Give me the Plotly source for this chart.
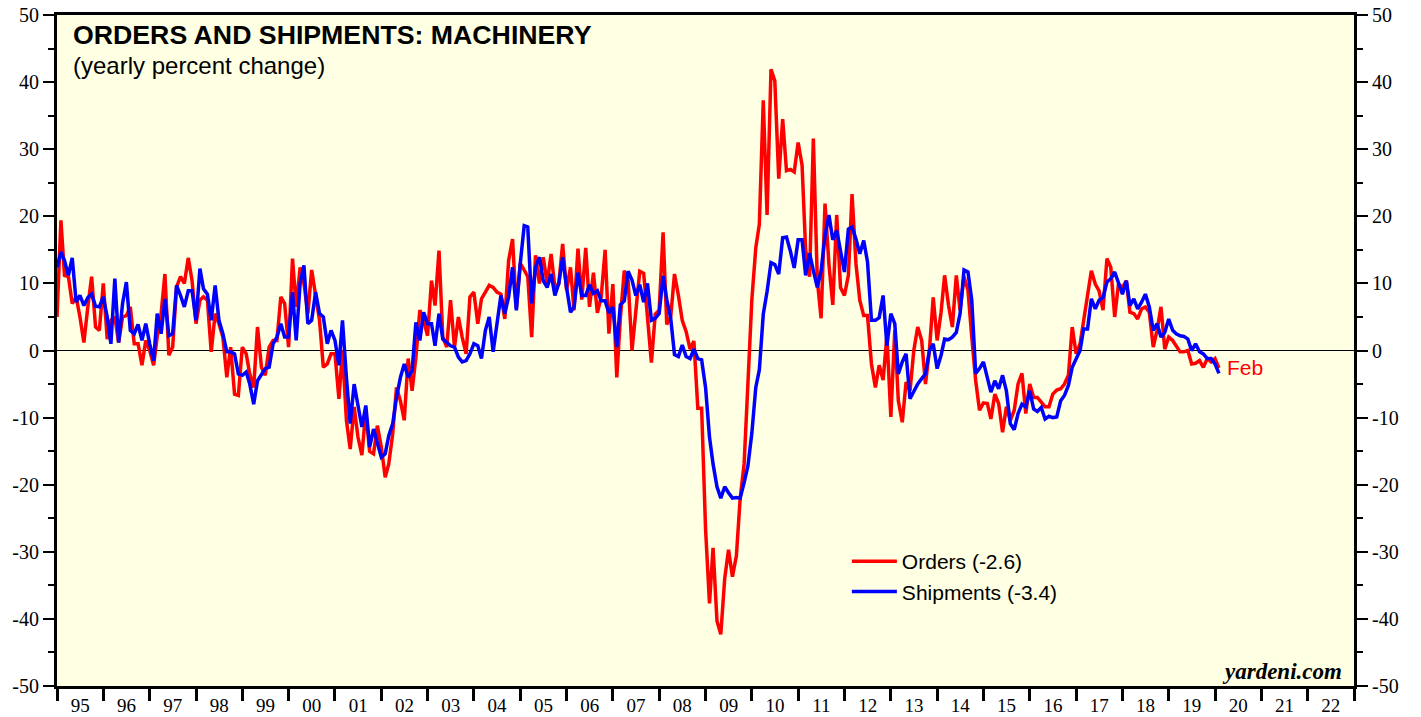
import pandas as pd
import plotly.graph_objects as go

# monthly yearly-percent-change values, Jan 1995 .. Feb 2020
orders = [
    5, 19.4, 11.2, 11, 7, 8, 5, 1.2, 6.5, 11, 3.5, 3,                 # 95
    10, 1.7, 4.5, 5, 1.2, 5, 5.2, 6.5, 1, 1, -2.2, 1.5,               # 96
    0, -2.2, 2, 5.5, 11.4, -0.7, 0.5, 9.5, 11, 10, 13.8, 10.4,        # 97
    4, 7.5, 8, 7.5, -0.2, 5.5, 4, 2, -4, 0.5, -6.5, -6.7,             # 98
    0.5, -0.5, -3.5, -5.5, 3.5, -2.5, -3.7, 0.5, 1.5, 1.5, 8, 7,      # 99
    0.5, 13.7, 6.5, 12.4, 10, 5.5, 12, 8.5, 4.5, -2.5, -2, -0.5,      # 00
    -0.5, -7.2, 0, -10.4, -14.7, -8.4, -12.9, -15.6, -9, -15, -15.4, -11.2,  # 01
    -14.4, -18.9, -16.9, -12.4, -5.5, -7.5, -10.4, -1.2, -6, -1, 6, 4.5,     # 02
    2.2, 10.4, 6.7, 14.9, 2, 0.5, 7.5, 0.5, 5, 2, -0.5, 8,            # 03
    8.7, 4, 7.7, 8.7, 9.7, 9.4, 8.7, 8.4, 4.7, 13.4, 16.6, 6.2,       # 04
    13, 12, 11, 2, 14.2, 10, 13.9, 10, 14.4, 9.4, 10, 15.9,           # 05
    9, 12.4, 6, 15.2, 7.6, 15.3, 6.5, 11.6, 5.6, 8, 15, 2.5,          # 06
    9.9, -4, 4.8, 11.9, 10.5, 0, 5.4, 11.8, 11.5, 4.8, -1.8, 5.4,     # 07
    6, 17.6, 3.9, 5, 11.4, 8.2, 4.5, 2.8, 0.2, 1.4, -8.6, -8.6,       # 08
    -26.6, -37.7, -29.4, -40.3, -42.3, -34, -29.7, -33.7, -30.6, -22, -16.9, -4.9,  # 09
    7.6, 15.3, 18.8, 37.3, 20.2, 41.9, 40.2, 25.6, 34.5, 26.8, 27, 26.6,     # 10
    31, 27.6, 15, 11, 31.6, 10.5, 4.8, 21.9, 12.8, 6.8, 20.2, 9.4,    # 11
    8.2, 11.2, 23.3, 12.9, 7.5, 5.2, 5.2, -2, -5.5, -2.2, -4.4, 2.2,  # 12
    -9.9, 3, -7.5, -10.7, -4.7, -6, 0, 3.5, 1.5, -5, 0, 7.9,          # 13
    1.5, 5.7, 11.2, 6.7, 3.5, 11.2, 6, 11, 9, 2, -4.5, -8.9,          # 14
    -7.8, -7.9, -10.2, -6.5, -7.9, -12.2, -8.4, -10.4, -8.9, -5, -3.4, -9.4,  # 15
    -5, -7, -7, -7.7, -8.4, -8.4, -6.5, -5.9, -5.7, -5, -3.7, 3.5,    # 16
    -0.5, 1, 4.5, 7.9, 11.9, 9.9, 8.9, 6, 13.7, 12.4, 5, 9.9,         # 17
    9.4, 10.4, 5.7, 5.5, 4.7, 6.2, 6.5, 5.7, 0.5, 3, 6.5, 0.2,        # 18
    2, 1.5, 0.7, -0.2, -0.2, 0, -2, -1.9, -1.5, -2.5, -1.2, -1.7,     # 19
    -1.2, -2.6,                                                       # 20
]

shipments = [
    12.4, 14.7, 13.4, 11.2, 13.8, 7.2, 8.2, 6.7, 7.9, 8.4, 6.6, 6.5,  # 95
    8, 5, 1, 10.7, 1.2, 7, 10.2, 3, 2.5, 3.9, 1.5, 4,                 # 96
    1, -1.5, 5.5, 2.5, 7.7, 2.2, 2.5, 9.7, 8.2, 6.5, 8.9, 8.9,        # 97
    4.5, 12.2, 9.2, 8.4, 4.5, 9.7, 4.5, 2.5, -0.2, -0.2, -0.5, -3.5,  # 98
    -3.7, -3.2, -5, -8, -4.5, -3.5, -2.7, -2.5, 1, 2, 4, 2,           # 99
    2, 8.7, 1.5, 10, 12.7, 4, 4.5, 8.7, 5.5, 5, 1, 3,                 # 00
    1.5, -2.2, 4.5, -4, -10.9, -5, -8.4, -11.4, -8.2, -14.4, -11.7, -13.9,   # 01
    -15.9, -15.4, -12.7, -10.9, -7, -4, -2, -4, -3, 4.2, 1.5, 5.7,    # 02
    4, 4, 0.7, 5.5, 1.7, 1.2, 0.7, 0.5, -1, -1.7, -1.5, -0.5,         # 03
    1, 0.7, -1.2, 3, 5, -0.2, 4, 8.2, 5.5, 8, 12.4, 6,                # 04
    13, 18.6, 18.4, 7, 12.4, 13.9, 10.4, 9.4, 11.4, 8.2, 10, 13.9,    # 05
    9.4, 5.7, 6.5, 11.6, 8.2, 8.2, 9.8, 8.5, 8.9, 7.4, 7.4, 5.6,      # 06
    6.5, 0.5, 6.8, 7.4, 11.8, 10.5, 8.2, 9.8, 7.2, 10, 4.5, 4.8,      # 07
    5.5, 11.1, 7.6, 4.8, -0.6, -0.9, 0.8, -0.9, -1.2, 0.2, -1.2, -1.4,       # 08
    -5.5, -12.9, -16.9, -20.3, -22, -20.3, -21.2, -22, -21.9, -22, -19.7, -17.2,  # 09
    -12.3, -5.5, -2.9, 5.4, 8.8, 13.1, 12.8, 11.4, 16.8, 16.9, 14.8, 12.3,   # 10
    16.5, 16.5, 11.2, 14.5, 11.9, 9.4, 11.9, 17.1, 20.2, 16.5, 17.9, 14.7,   # 11
    11.7, 18.1, 18.4, 16.6, 14.4, 16.4, 13.2, 4.5, 4.5, 4.9, 8.2, 0.7,       # 12
    5.5, 4, -3.5, -1.7, -0.5, -7.2, -6, -5, -4.2, -3.5, 0, 1,         # 13
    -2.7, -0.7, 1.7, 1.6, 2, 2.7, 5.5, 12, 11.7, 7.5, -3.4, -2.7,     # 14
    -1.7, -4, -6.2, -4.5, -5.7, -3.7, -6, -10.9, -11.8, -9.4, -8, -8.4,      # 15
    -6, -8.7, -9.1, -8.5, -10.2, -9.8, -10, -9.9, -7.5, -6.7, -5.2, -2.5,    # 16
    -1.2, 0, 3.2, 3.2, 7.7, 6.2, 7.5, 7.9, 10.2, 10.7, 11.7, 10.2,    # 17
    8.4, 10.4, 6.7, 7.7, 6.2, 7.2, 8.4, 6.5, 3, 4, 2, 2.7,            # 18
    4.7, 3, 2.5, 2.2, 2.1, 1.7, 0, 1, -0.2, -0.5, -1.2, -1.2,         # 19
    -2, -3.4,                                                         # 20
]

# y tick values and their labels (plain hyphen, as on the original)
y_ticks = [-50, -40, -30, -20, -10, 0, 10, 20, 30, 40, 50]
y_ticklabels = ["-50", "-40", "-30", "-20", "-10", "0", "10", "20", "30", "40", "50"]

dates = pd.date_range("1995-01-01", periods=len(orders), freq="MS")

fig = go.Figure()

# both y axes share the same -50..50 scale; shipments sit on the right one
fig.add_trace(go.Scatter(
    x=dates, y=orders, mode="lines", name=f"Orders ({orders[-1]})",
    line=dict(color="#FF0000", width=3.5)
))
fig.add_trace(go.Scatter(
    x=dates, y=shipments, mode="lines", name=f"Shipments ({shipments[-1]})",
    line=dict(color="#0000FF", width=3.5), yaxis="y2"
))

# label for the latest month
fig.add_annotation(x=dates[-1], y=orders[-1], text="Feb", showarrow=False,
                   xanchor="left", yanchor="middle", xshift=6,
                   font=dict(family="Liberation Sans", size=21, color="#FF0000"))

# titles and credit
fig.add_annotation(x=0.0105, y=0.995, xref="paper", yref="paper", xanchor="left", yanchor="top",
                   text="<b>ORDERS AND SHIPMENTS: MACHINERY</b>", showarrow=False,
                   font=dict(family="Liberation Sans", size=26.7, color="black"))
fig.add_annotation(x=0.0105, y=0.948, xref="paper", yref="paper", xanchor="left", yanchor="top",
                   text="(yearly percent change)", showarrow=False,
                   font=dict(family="Liberation Sans", size=24, color="black"))
fig.add_annotation(x=0.992, y=0.0, xref="paper", yref="paper", xanchor="right", yanchor="bottom",
                   text="<b><i>yardeni.com</i></b>", showarrow=False,
                   font=dict(family="Liberation Serif", size=23, color="black"))

tickfont = dict(family="Liberation Serif", size=20, color="black")
yax = dict(
    range=[-50, 50], tickmode="array", tickvals=y_ticks, ticktext=y_ticklabels,
    showgrid=False, automargin=False,
    ticks="outside", ticklen=11, tickwidth=2, tickcolor="black",
    showline=True, linewidth=3, linecolor="black",
    minor=dict(tickmode="linear", tick0=0, dtick=5, ticks="outside",
               ticklen=6, tickwidth=2, tickcolor="black"),
    tickfont=tickfont, ticklabeloverflow="allow", fixedrange=True,
)

# page body adds an 8px offset, so the figure is 8px smaller than the window
fig.update_layout(
    width=1413, height=709,
    margin=dict(l=49, r=67, t=7, b=31),
    paper_bgcolor="white",
    plot_bgcolor="#FFFFE3",
    showlegend=True,
    legend=dict(x=0.609, y=0.216, xanchor="left", yanchor="top",
                bgcolor="rgba(0,0,0,0)", itemwidth=45,
                font=dict(family="Liberation Sans", size=21, color="black")),
    xaxis=dict(
        type="date", range=["1995-01-01", "2023-01-01"], automargin=False,
        dtick="M12", tick0="1995-01-01", tickformat="%y", ticklabelmode="period",
        ticks="outside", ticklen=12, tickwidth=3, tickcolor="black",
        ticklabelstandoff=-12, ticklabeloverflow="allow",
        showline=True, linewidth=3, linecolor="black", mirror=True,
        showgrid=False, tickfont=dict(tickfont, size=19),
    ),
    yaxis=dict(**yax, zeroline=True, zerolinecolor="black", zerolinewidth=1),
    yaxis2=dict(**yax, overlaying="y", side="right", zeroline=False),
)

fig.write_html("out.html")
